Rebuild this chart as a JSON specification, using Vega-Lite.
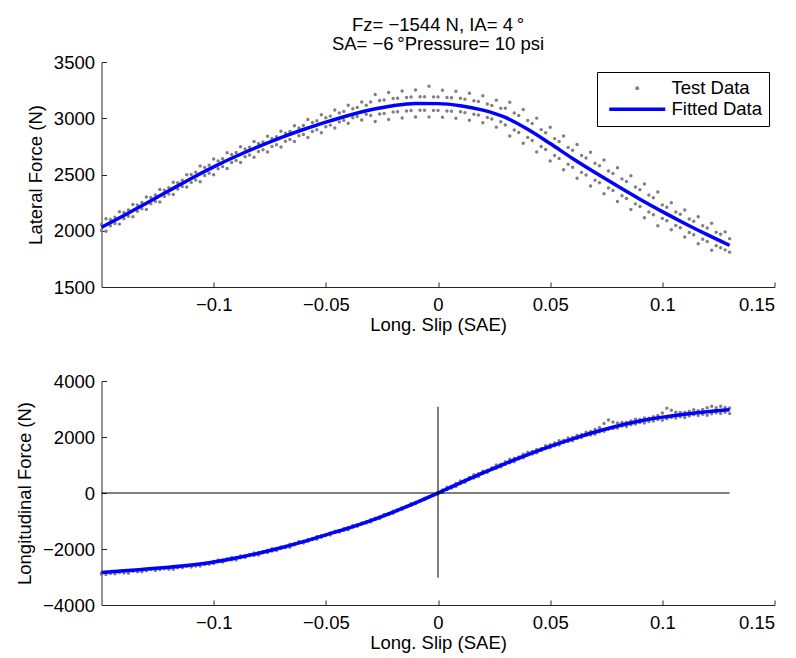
{
  "$schema": "https://vega.github.io/schema/vega-lite/v6.json",
  "background": "white",
  "padding": {"left": 15.5, "top": 15, "right": 5, "bottom": 3},
  "spacing": 38,
  "config": {
    "font": "Liberation Sans",
    "view": {"stroke": null},
    "axis": {
      "domainColor": "#262626", "tickColor": "#262626", "labelColor": "#000000", "titleColor": "#000000",
      "labelFont": "Liberation Sans", "titleFont": "Liberation Sans", "labelFontSize": 18.5, "titleFontSize": 18.5,
      "titleFontWeight": "normal", "grid": false, "tickSize": -5, "domainWidth": 1, "tickWidth": 1
    },
    "axisX": {"labelPadding": 13, "titlePadding": 2},
    "axisY": {"labelPadding": 12, "titlePadding": 8},
    "legend": {
      "title": null, "orient": "none", "legendX": 495.5, "legendY": 10,
      "strokeColor": "#000000", "fillColor": "#ffffff", "padding": 7,
      "labelFont": "Liberation Sans", "labelFontSize": 18.5, "labelColor": "#000000", "labelLimit": 300,
      "symbolSize": 4, "labelOffset": 49, "rowPadding": 2, "symbolOpacity": 1, "symbolStrokeWidth": 0
    }
  },
  "resolve": {"scale": {"color": "independent", "shape": "independent"}, "legend": {"color": "independent", "shape": "independent"}},
  "datasets": {
    "top": [
      {"x":-0.150,"y":2058},{"x":-0.150,"y":2002},{"x":-0.148,"y":2106},{"x":-0.148,"y":1996},{"x":-0.146,"y":2100},{"x":-0.146,"y":2044},
      {"x":-0.144,"y":2065},{"x":-0.144,"y":2121},{"x":-0.142,"y":2059},{"x":-0.142,"y":2169},{"x":-0.140,"y":2107},{"x":-0.140,"y":2163},
      {"x":-0.138,"y":2185},{"x":-0.138,"y":2129},{"x":-0.136,"y":2234},{"x":-0.136,"y":2124},{"x":-0.134,"y":2229},{"x":-0.134,"y":2173},
      {"x":-0.132,"y":2195},{"x":-0.132,"y":2251},{"x":-0.130,"y":2190},{"x":-0.130,"y":2300},{"x":-0.128,"y":2239},{"x":-0.128,"y":2295},
      {"x":-0.126,"y":2317},{"x":-0.126,"y":2261},{"x":-0.124,"y":2366},{"x":-0.124,"y":2256},{"x":-0.122,"y":2361},{"x":-0.122,"y":2305},
      {"x":-0.120,"y":2327},{"x":-0.120,"y":2383},{"x":-0.118,"y":2322},{"x":-0.118,"y":2432},{"x":-0.116,"y":2371},{"x":-0.116,"y":2427},
      {"x":-0.114,"y":2449},{"x":-0.114,"y":2393},{"x":-0.112,"y":2498},{"x":-0.112,"y":2388},{"x":-0.110,"y":2500},{"x":-0.110,"y":2430},
      {"x":-0.108,"y":2451},{"x":-0.108,"y":2521},{"x":-0.106,"y":2436},{"x":-0.106,"y":2576},{"x":-0.104,"y":2492},{"x":-0.104,"y":2562},
      {"x":-0.102,"y":2582},{"x":-0.102,"y":2512},{"x":-0.100,"y":2638},{"x":-0.100,"y":2498},{"x":-0.098,"y":2621},{"x":-0.098,"y":2551},
      {"x":-0.096,"y":2570},{"x":-0.096,"y":2640},{"x":-0.094,"y":2553},{"x":-0.094,"y":2693},{"x":-0.092,"y":2607},{"x":-0.092,"y":2677},
      {"x":-0.090,"y":2695},{"x":-0.090,"y":2625},{"x":-0.088,"y":2746},{"x":-0.088,"y":2606},{"x":-0.086,"y":2727},{"x":-0.086,"y":2657},
      {"x":-0.084,"y":2673},{"x":-0.084,"y":2743},{"x":-0.082,"y":2654},{"x":-0.082,"y":2794},{"x":-0.080,"y":2705},{"x":-0.080,"y":2775},
      {"x":-0.078,"y":2790},{"x":-0.078,"y":2720},{"x":-0.076,"y":2840},{"x":-0.076,"y":2700},{"x":-0.074,"y":2820},{"x":-0.074,"y":2750},
      {"x":-0.072,"y":2765},{"x":-0.072,"y":2835},{"x":-0.070,"y":2745},{"x":-0.070,"y":2885},{"x":-0.068,"y":2796},{"x":-0.068,"y":2866},
      {"x":-0.066,"y":2882},{"x":-0.066,"y":2812},{"x":-0.064,"y":2933},{"x":-0.064,"y":2793},{"x":-0.062,"y":2914},{"x":-0.062,"y":2844},
      {"x":-0.060,"y":2855},{"x":-0.060,"y":2935},{"x":-0.058,"y":2829},{"x":-0.058,"y":2989},{"x":-0.056,"y":2883},{"x":-0.056,"y":2963},
      {"x":-0.054,"y":2977},{"x":-0.054,"y":2897},{"x":-0.052,"y":3031},{"x":-0.052,"y":2871},{"x":-0.050,"y":3005},{"x":-0.050,"y":2925},
      {"x":-0.048,"y":2939},{"x":-0.048,"y":3019},{"x":-0.046,"y":2913},{"x":-0.046,"y":3073},{"x":-0.044,"y":2967},{"x":-0.044,"y":3047},
      {"x":-0.042,"y":3061},{"x":-0.042,"y":2981},{"x":-0.040,"y":3115},{"x":-0.040,"y":2955},{"x":-0.038,"y":3085},{"x":-0.038,"y":3005},
      {"x":-0.036,"y":3015},{"x":-0.036,"y":3095},{"x":-0.034,"y":2985},{"x":-0.034,"y":3145},{"x":-0.032,"y":3035},{"x":-0.032,"y":3115},
      {"x":-0.030,"y":3145},{"x":-0.030,"y":3025},{"x":-0.028,"y":3211},{"x":-0.028,"y":2971},{"x":-0.026,"y":3157},{"x":-0.026,"y":3037},
      {"x":-0.024,"y":3043},{"x":-0.024,"y":3163},{"x":-0.022,"y":2989},{"x":-0.022,"y":3229},{"x":-0.020,"y":3055},{"x":-0.020,"y":3175},
      {"x":-0.018,"y":3178},{"x":-0.018,"y":3058},{"x":-0.016,"y":3242},{"x":-0.016,"y":3002},{"x":-0.014,"y":3185},{"x":-0.014,"y":3065},
      {"x":-0.012,"y":3069},{"x":-0.012,"y":3189},{"x":-0.010,"y":3012},{"x":-0.010,"y":3252},{"x":-0.008,"y":3072},{"x":-0.008,"y":3192},
      {"x":-0.006,"y":3191},{"x":-0.006,"y":3071},{"x":-0.004,"y":3285},{"x":-0.004,"y":3011},{"x":-0.002,"y":3190},{"x":-0.002,"y":3070},
      {"x":0.000,"y":3070},{"x":0.000,"y":3190},{"x":0.002,"y":3008},{"x":0.002,"y":3248},{"x":0.004,"y":3065},{"x":0.004,"y":3185},
      {"x":0.006,"y":3183},{"x":0.006,"y":3063},{"x":0.008,"y":3240},{"x":0.008,"y":3000},{"x":0.010,"y":3178},{"x":0.010,"y":3058},
      {"x":0.012,"y":3050},{"x":0.012,"y":3170},{"x":0.014,"y":2983},{"x":0.014,"y":3223},{"x":0.016,"y":3035},{"x":0.016,"y":3155},
      {"x":0.018,"y":3148},{"x":0.018,"y":3028},{"x":0.020,"y":3200},{"x":0.020,"y":2960},{"x":0.022,"y":3127},{"x":0.022,"y":3007},
      {"x":0.024,"y":2994},{"x":0.024,"y":3114},{"x":0.026,"y":2921},{"x":0.026,"y":3161},{"x":0.028,"y":2968},{"x":0.028,"y":3088},
      {"x":0.030,"y":3090},{"x":0.030,"y":2940},{"x":0.032,"y":3143},{"x":0.032,"y":2843},{"x":0.034,"y":3046},{"x":0.034,"y":2896},
      {"x":0.036,"y":2874},{"x":0.036,"y":3024},{"x":0.038,"y":2777},{"x":0.038,"y":3077},{"x":0.040,"y":2830},{"x":0.040,"y":2980},
      {"x":0.042,"y":2953},{"x":0.042,"y":2803},{"x":0.044,"y":3001},{"x":0.044,"y":2701},{"x":0.046,"y":2899},{"x":0.046,"y":2749},
      {"x":0.048,"y":2722},{"x":0.048,"y":2872},{"x":0.050,"y":2620},{"x":0.050,"y":2920},{"x":0.052,"y":2669},{"x":0.052,"y":2819},
      {"x":0.054,"y":2793},{"x":0.054,"y":2643},{"x":0.056,"y":2842},{"x":0.056,"y":2542},{"x":0.058,"y":2741},{"x":0.058,"y":2591},
      {"x":0.060,"y":2565},{"x":0.060,"y":2715},{"x":0.062,"y":2467},{"x":0.062,"y":2767},{"x":0.064,"y":2519},{"x":0.064,"y":2669},
      {"x":0.066,"y":2646},{"x":0.066,"y":2496},{"x":0.068,"y":2698},{"x":0.068,"y":2398},{"x":0.070,"y":2600},{"x":0.070,"y":2450},
      {"x":0.072,"y":2427},{"x":0.072,"y":2577},{"x":0.074,"y":2329},{"x":0.074,"y":2629},{"x":0.076,"y":2381},{"x":0.076,"y":2531},
      {"x":0.078,"y":2508},{"x":0.078,"y":2358},{"x":0.080,"y":2560},{"x":0.080,"y":2260},{"x":0.082,"y":2461},{"x":0.082,"y":2311},
      {"x":0.084,"y":2287},{"x":0.084,"y":2437},{"x":0.086,"y":2188},{"x":0.086,"y":2488},{"x":0.088,"y":2239},{"x":0.088,"y":2389},
      {"x":0.090,"y":2365},{"x":0.090,"y":2215},{"x":0.092,"y":2416},{"x":0.092,"y":2116},{"x":0.094,"y":2317},{"x":0.094,"y":2167},
      {"x":0.096,"y":2143},{"x":0.096,"y":2293},{"x":0.098,"y":2044},{"x":0.098,"y":2344},{"x":0.100,"y":2110},{"x":0.100,"y":2230},
      {"x":0.102,"y":2209},{"x":0.102,"y":2089},{"x":0.104,"y":2248},{"x":0.104,"y":2008},{"x":0.106,"y":2167},{"x":0.106,"y":2047},
      {"x":0.108,"y":2026},{"x":0.108,"y":2146},{"x":0.110,"y":1945},{"x":0.110,"y":2185},{"x":0.112,"y":1985},{"x":0.112,"y":2105},
      {"x":0.114,"y":2085},{"x":0.114,"y":1965},{"x":0.116,"y":2125},{"x":0.116,"y":1885},{"x":0.118,"y":2045},{"x":0.118,"y":1925},
      {"x":0.120,"y":1905},{"x":0.120,"y":2025},{"x":0.122,"y":1826},{"x":0.122,"y":2066},{"x":0.124,"y":1867},{"x":0.124,"y":1987},
      {"x":0.126,"y":1968},{"x":0.126,"y":1848},{"x":0.128,"y":1990},{"x":0.128,"y":1830},{"x":0.130,"y":1930},{"x":0.130,"y":1810}
    ],
    "topfit": [
      {"x":-0.15,"y":2030},{"x":-0.14,"y":2135},{"x":-0.13,"y":2245},{"x":-0.12,"y":2355},{"x":-0.11,"y":2465},{"x":-0.10,"y":2568},
      {"x":-0.09,"y":2662},{"x":-0.08,"y":2748},{"x":-0.07,"y":2828},{"x":-0.06,"y":2900},{"x":-0.05,"y":2965},{"x":-0.04,"y":3025},
      {"x":-0.03,"y":3075},{"x":-0.02,"y":3112},{"x":-0.01,"y":3131},{"x":0.00,"y":3130},{"x":0.01,"y":3112},{"x":0.02,"y":3072},
      {"x":0.03,"y":3008},{"x":0.04,"y":2902},{"x":0.05,"y":2775},{"x":0.06,"y":2643},{"x":0.07,"y":2518},{"x":0.08,"y":2397},
      {"x":0.09,"y":2280},{"x":0.10,"y":2170},{"x":0.11,"y":2065},{"x":0.12,"y":1965},{"x":0.13,"y":1870}
    ],
    "bot": [
      {"x":-0.150,"y":-2905},{"x":-0.150,"y":-2855},{"x":-0.148,"y":-2914},{"x":-0.148,"y":-2864},{"x":-0.146,"y":-2873},{"x":-0.146,"y":-2823},
      {"x":-0.144,"y":-2882},{"x":-0.144,"y":-2852},{"x":-0.142,"y":-2841},{"x":-0.142,"y":-2821},{"x":-0.140,"y":-2855},{"x":-0.140,"y":-2795},
      {"x":-0.138,"y":-2862},{"x":-0.138,"y":-2812},{"x":-0.136,"y":-2794},{"x":-0.136,"y":-2779},{"x":-0.134,"y":-2811},{"x":-0.134,"y":-2746},
      {"x":-0.132,"y":-2813},{"x":-0.132,"y":-2763},{"x":-0.130,"y":-2770},{"x":-0.130,"y":-2765},{"x":-0.128,"y":-2732},{"x":-0.128,"y":-2722},
      {"x":-0.126,"y":-2769},{"x":-0.126,"y":-2699},{"x":-0.124,"y":-2736},{"x":-0.124,"y":-2716},{"x":-0.122,"y":-2708},{"x":-0.122,"y":-2688},
      {"x":-0.120,"y":-2720},{"x":-0.120,"y":-2705},{"x":-0.118,"y":-2724},{"x":-0.118,"y":-2649},{"x":-0.116,"y":-2668},{"x":-0.116,"y":-2648},
      {"x":-0.114,"y":-2667},{"x":-0.114,"y":-2647},{"x":-0.112,"y":-2621},{"x":-0.112,"y":-2596},{"x":-0.110,"y":-2645},{"x":-0.110,"y":-2595},
      {"x":-0.108,"y":-2604},{"x":-0.108,"y":-2589},{"x":-0.106,"y":-2608},{"x":-0.106,"y":-2548},{"x":-0.104,"y":-2547},{"x":-0.104,"y":-2557},
      {"x":-0.102,"y":-2546},{"x":-0.102,"y":-2516},{"x":-0.100,"y":-2515},{"x":-0.100,"y":-2445},{"x":-0.098,"y":-2456},{"x":-0.098,"y":-2396},
      {"x":-0.096,"y":-2467},{"x":-0.096,"y":-2397},{"x":-0.094,"y":-2388},{"x":-0.094,"y":-2348},{"x":-0.092,"y":-2389},{"x":-0.092,"y":-2299},
      {"x":-0.090,"y":-2390},{"x":-0.090,"y":-2305},{"x":-0.088,"y":-2316},{"x":-0.088,"y":-2251},{"x":-0.086,"y":-2307},{"x":-0.086,"y":-2247},
      {"x":-0.084,"y":-2233},{"x":-0.084,"y":-2193},{"x":-0.082,"y":-2229},{"x":-0.082,"y":-2139},{"x":-0.080,"y":-2215},{"x":-0.080,"y":-2130},
      {"x":-0.078,"y":-2136},{"x":-0.078,"y":-2101},{"x":-0.076,"y":-2122},{"x":-0.076,"y":-2042},{"x":-0.074,"y":-2068},{"x":-0.074,"y":-1993},
      {"x":-0.072,"y":-2054},{"x":-0.072,"y":-1979},{"x":-0.070,"y":-1975},{"x":-0.070,"y":-1930},{"x":-0.068,"y":-1956},{"x":-0.068,"y":-1906},
      {"x":-0.066,"y":-1937},{"x":-0.066,"y":-1832},{"x":-0.064,"y":-1853},{"x":-0.064,"y":-1803},{"x":-0.062,"y":-1789},{"x":-0.062,"y":-1734},
      {"x":-0.060,"y":-1790},{"x":-0.060,"y":-1725},{"x":-0.058,"y":-1727},{"x":-0.058,"y":-1657},{"x":-0.056,"y":-1659},{"x":-0.056,"y":-1624},
      {"x":-0.054,"y":-1651},{"x":-0.054,"y":-1551},{"x":-0.052,"y":-1578},{"x":-0.052,"y":-1518},{"x":-0.050,"y":-1520},{"x":-0.050,"y":-1490},
      {"x":-0.048,"y":-1497},{"x":-0.048,"y":-1427},{"x":-0.046,"y":-1414},{"x":-0.046,"y":-1364},{"x":-0.044,"y":-1396},{"x":-0.044,"y":-1341},
      {"x":-0.042,"y":-1333},{"x":-0.042,"y":-1273},{"x":-0.040,"y":-1310},{"x":-0.040,"y":-1235},{"x":-0.038,"y":-1221},{"x":-0.038,"y":-1161},
      {"x":-0.036,"y":-1187},{"x":-0.036,"y":-1132},{"x":-0.034,"y":-1103},{"x":-0.034,"y":-1068},{"x":-0.032,"y":-1074},{"x":-0.032,"y":-1034},
      {"x":-0.030,"y":-1035},{"x":-0.030,"y":-955},{"x":-0.028,"y":-949},{"x":-0.028,"y":-904},{"x":-0.026,"y":-908},{"x":-0.026,"y":-853},
      {"x":-0.024,"y":-817},{"x":-0.024,"y":-767},{"x":-0.022,"y":-771},{"x":-0.022,"y":-731},{"x":-0.020,"y":-720},{"x":-0.020,"y":-650},
      {"x":-0.018,"y":-634},{"x":-0.018,"y":-594},{"x":-0.016,"y":-583},{"x":-0.016,"y":-528},{"x":-0.014,"y":-492},{"x":-0.014,"y":-472},
      {"x":-0.012,"y":-441},{"x":-0.012,"y":-386},{"x":-0.010,"y":-380},{"x":-0.010,"y":-335},{"x":-0.008,"y":-295},{"x":-0.008,"y":-275},
      {"x":-0.006,"y":-230},{"x":-0.006,"y":-190},{"x":-0.004,"y":-150},{"x":-0.004,"y":-130},{"x":-0.002,"y":-75},{"x":-0.002,"y":-65},
      {"x":0.000,"y":20},{"x":0.000,"y":-30},{"x":0.002,"y":112},{"x":0.002,"y":22},{"x":0.004,"y":204},{"x":0.004,"y":124},
      {"x":0.006,"y":246},{"x":0.006,"y":176},{"x":0.008,"y":338},{"x":0.008,"y":228},{"x":0.010,"y":430},{"x":0.010,"y":335},
      {"x":0.012,"y":466},{"x":0.012,"y":386},{"x":0.014,"y":557},{"x":0.014,"y":487},{"x":0.016,"y":653},{"x":0.016,"y":538},
      {"x":0.018,"y":689},{"x":0.018,"y":589},{"x":0.020,"y":780},{"x":0.020,"y":695},{"x":0.022,"y":812},{"x":0.022,"y":742},
      {"x":0.024,"y":904},{"x":0.024,"y":839},{"x":0.026,"y":1001},{"x":0.026,"y":886},{"x":0.028,"y":1023},{"x":0.028,"y":933},
      {"x":0.030,"y":1120},{"x":0.030,"y":1030},{"x":0.032,"y":1209},{"x":0.032,"y":1079},{"x":0.034,"y":1238},{"x":0.034,"y":1118},
      {"x":0.036,"y":1287},{"x":0.036,"y":1217},{"x":0.038,"y":1381},{"x":0.038,"y":1261},{"x":0.040,"y":1460},{"x":0.040,"y":1355},
      {"x":0.042,"y":1479},{"x":0.042,"y":1389},{"x":0.044,"y":1553},{"x":0.044,"y":1433},{"x":0.046,"y":1587},{"x":0.046,"y":1517},
      {"x":0.048,"y":1686},{"x":0.048,"y":1586},{"x":0.050,"y":1720},{"x":0.050,"y":1615},{"x":0.052,"y":1789},{"x":0.052,"y":1684},
      {"x":0.054,"y":1868},{"x":0.054,"y":1713},{"x":0.056,"y":1887},{"x":0.056,"y":1802},{"x":0.058,"y":1966},{"x":0.058,"y":1836},
      {"x":0.060,"y":1985},{"x":0.060,"y":1865},{"x":0.062,"y":2059},{"x":0.062,"y":1944},{"x":0.064,"y":2093},{"x":0.064,"y":1978},
      {"x":0.066,"y":2172},{"x":0.066,"y":2052},{"x":0.068,"y":2201},{"x":0.068,"y":2071},{"x":0.070,"y":2280},{"x":0.070,"y":2100},
      {"x":0.072,"y":2343},{"x":0.072,"y":2178},{"x":0.074,"y":2486},{"x":0.074,"y":2201},{"x":0.076,"y":2609},{"x":0.076,"y":2274},
      {"x":0.078,"y":2532},{"x":0.078,"y":2302},{"x":0.080,"y":2505},{"x":0.080,"y":2325},{"x":0.082,"y":2515},{"x":0.082,"y":2390},
      {"x":0.084,"y":2520},{"x":0.084,"y":2375},{"x":0.086,"y":2570},{"x":0.086,"y":2440},{"x":0.088,"y":2635},{"x":0.088,"y":2460},
      {"x":0.090,"y":2630},{"x":0.090,"y":2520},{"x":0.092,"y":2678},{"x":0.092,"y":2498},{"x":0.094,"y":2671},{"x":0.094,"y":2556},
      {"x":0.096,"y":2724},{"x":0.096,"y":2569},{"x":0.098,"y":2772},{"x":0.098,"y":2627},{"x":0.100,"y":2860},{"x":0.100,"y":2600},
      {"x":0.102,"y":3031},{"x":0.102,"y":2651},{"x":0.104,"y":2952},{"x":0.104,"y":2692},{"x":0.106,"y":2883},{"x":0.106,"y":2678},
      {"x":0.108,"y":2874},{"x":0.108,"y":2724},{"x":0.110,"y":2875},{"x":0.110,"y":2695},{"x":0.112,"y":2923},{"x":0.112,"y":2748},
      {"x":0.114,"y":2971},{"x":0.114,"y":2791},{"x":0.116,"y":2939},{"x":0.116,"y":2769},{"x":0.118,"y":2987},{"x":0.118,"y":2812},
      {"x":0.120,"y":3045},{"x":0.120,"y":2775},{"x":0.122,"y":3099},{"x":0.122,"y":2829},{"x":0.124,"y":3043},{"x":0.124,"y":2863},
      {"x":0.126,"y":3097},{"x":0.126,"y":2837},{"x":0.128,"y":3051},{"x":0.128,"y":2881},{"x":0.130,"y":3035},{"x":0.130,"y":2835}
    ],
    "botfit": [
      {"x":-0.15,"y":-2835},{"x":-0.14,"y":-2780},{"x":-0.13,"y":-2715},{"x":-0.12,"y":-2650},{"x":-0.11,"y":-2570},{"x":-0.10,"y":-2465},
      {"x":-0.09,"y":-2320},{"x":-0.08,"y":-2150},{"x":-0.07,"y":-1955},{"x":-0.06,"y":-1735},{"x":-0.05,"y":-1495},{"x":-0.04,"y":-1255},
      {"x":-0.03,"y":-985},{"x":-0.02,"y":-680},{"x":-0.01,"y":-350},{"x":0.00,"y":0},{"x":0.01,"y":360},{"x":0.02,"y":715},
      {"x":0.03,"y":1050},{"x":0.04,"y":1370},{"x":0.05,"y":1665},{"x":0.06,"y":1935},{"x":0.07,"y":2180},{"x":0.08,"y":2395},
      {"x":0.09,"y":2570},{"x":0.10,"y":2710},{"x":0.11,"y":2815},{"x":0.12,"y":2905},{"x":0.13,"y":2975}
    ],
    "zerolines": [
      {"x":-0.15,"x2":0.13,"y":0,"y2":0},
      {"x":0,"x2":0,"y":-3025,"y2":3080}
    ]
  },
  "vconcat": [
    {
      "width": 673,
      "height": 225,
      "title": {
        "text": ["Fz= −1544 N, IA= 4\u2009°", "SA= −6\u2009°Pressure= 10 psi"],
        "font": "Liberation Sans", "fontSize": 18.5, "fontWeight": "normal", "color": "#000000",
        "anchor": "middle", "frame": "group", "offset": 0, "lineHeight": 19
      },
      "layer": [
        {
          "data": {"name": "top"},
          "mark": {"type": "circle", "size": 12, "opacity": 1, "color": "#808080"},
          "encoding": {
            "x": {"field": "x", "type": "quantitative", "scale": {"domain": [-0.15, 0.15], "nice": false, "zero": false},
                  "axis": {"values": [-0.1, -0.05, 0, 0.05, 0.1, 0.15], "format": "~g", "title": "Long. Slip (SAE)"}},
            "y": {"field": "y", "type": "quantitative", "scale": {"domain": [1500, 3500], "nice": false, "zero": false},
                  "axis": {"values": [1500, 2000, 2500, 3000, 3500], "format": "d", "title": "Lateral Force (N)"}}
          }
        },
        {
          "data": {"name": "topfit"},
          "mark": {"type": "line", "strokeWidth": 3.5, "interpolate": "monotone", "color": "#0000ff"},
          "encoding": {
            "x": {"field": "x", "type": "quantitative"},
            "y": {"field": "y", "type": "quantitative"}
          }
        },
        {
          "data": {"values": []},
          "mark": {"type": "point", "filled": true, "opacity": 1},
          "encoding": {
            "color": {
              "datum": "Test Data", "type": "nominal",
              "scale": {"domain": ["Test Data", "Fitted Data"], "range": ["#808080", "#0000ff"]},
              "legend": {"title": null}
            },
            "shape": {
              "datum": "Test Data", "type": "nominal",
              "scale": {"domain": ["Test Data", "Fitted Data"], "range": ["M22,0a2,2 0 1,0 4,0a2,2 0 1,0 -4,0Z", "M-4,-1.75H52V1.75H-4Z"]},
              "legend": {"title": null}
            }
          }
        }
      ]
    },
    {
      "width": 673,
      "height": 224,
      "layer": [
        {
          "data": {"name": "bot"},
          "mark": {"type": "circle", "size": 12, "opacity": 1, "color": "#808080"},
          "encoding": {
            "x": {"field": "x", "type": "quantitative", "scale": {"domain": [-0.15, 0.15], "nice": false, "zero": false},
                  "axis": {"values": [-0.1, -0.05, 0, 0.05, 0.1, 0.15], "format": "~g", "title": "Long. Slip (SAE)"}},
            "y": {"field": "y", "type": "quantitative", "scale": {"domain": [-4000, 4000], "nice": false, "zero": false},
                  "axis": {"values": [-4000, -2000, 0, 2000, 4000], "format": "d", "title": "Longitudinal Force (N)"}}
          }
        },
        {
          "data": {"name": "botfit"},
          "mark": {"type": "line", "strokeWidth": 3.5, "interpolate": "monotone", "color": "#0000ff"},
          "encoding": {
            "x": {"field": "x", "type": "quantitative"},
            "y": {"field": "y", "type": "quantitative"}
          }
        },
        {
          "data": {"name": "zerolines"},
          "mark": {"type": "rule", "color": "#000000", "strokeWidth": 1},
          "encoding": {
            "x": {"field": "x", "type": "quantitative"},
            "x2": {"field": "x2"},
            "y": {"field": "y", "type": "quantitative"},
            "y2": {"field": "y2"}
          }
        }
      ]
    }
  ]
}
